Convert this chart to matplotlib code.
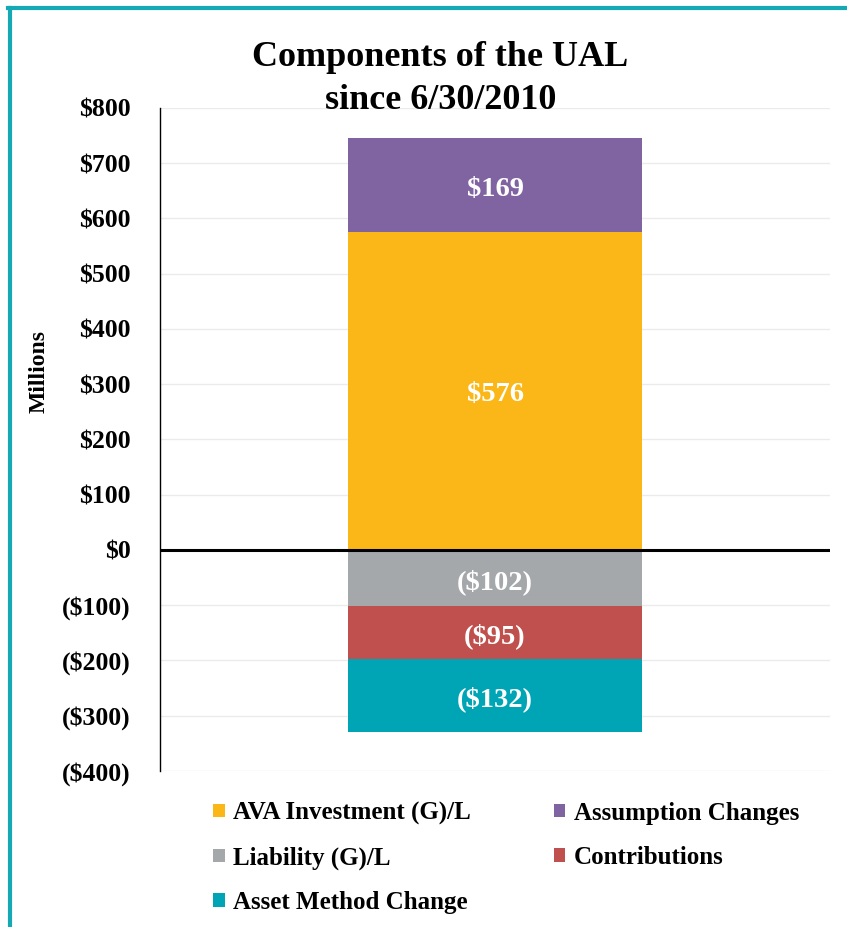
import matplotlib

matplotlib.use("Agg")
import matplotlib.pyplot as plt
from matplotlib.lines import Line2D
from matplotlib.patches import Patch
from matplotlib.ticker import FuncFormatter
from matplotlib.transforms import offset_copy

plt.rcParams["font.family"] = ["Liberation Serif", "DejaVu Serif"]
plt.rcParams["font.weight"] = "bold"

# components (millions), stacked in drawing order
components = ["AVA Investment (G)/L", "Assumption Changes", "Liability (G)/L",
              "Contributions", "Asset Method Change"]
values = [576, 169, -102, -95, -132]
labels = ["$576", "$169", "($102)", "($95)", "($132)"]
colors = ["#FBB717", "#8064A2", "#A5A8AB", "#C0504D", "#00A5B5"]
yticks = list(range(-400, 801, 100))

fig = plt.figure(figsize=(8.47, 9.27), dpi=100)
ax = fig.add_axes([0.1889, 0.1683, 0.7911, 0.7152])
label_tr = offset_copy(ax.transData, fig=fig, y=-4, units="dots")

pos_base, neg_base = 0, 0
handles = {}
for name, v, lab, c in zip(components, values, labels, colors):
    if v >= 0:
        bottom = pos_base
        pos_base += v
    else:
        bottom = neg_base
        neg_base += v
    ax.bar(0, v, bottom=bottom, width=0.44, color=c, zorder=3)
    ax.text(0, bottom + v / 2, lab, ha="center", va="center", color="white",
            fontsize=20.5, fontweight="bold", zorder=4, transform=label_tr)
    handles[name] = Patch(facecolor=c, edgecolor="none")

ax.set_xlim(-0.5, 0.5)
ax.set_ylim(-400, 800)
ax.set_yticks(yticks)
ax.yaxis.set_major_formatter(FuncFormatter(
    lambda v, _: f"${int(v)}" if v >= 0 else f"(${int(-v)})"))
ax.tick_params(axis="y", length=0, labelsize=18.5, pad=21)
ax.set_xticks([])
for t in ax.get_yticklabels():
    t.set_fontweight("bold")
ax.grid(axis="y", color="#EBEBEB", lw=1, zorder=0)
for s in ["top", "right", "bottom"]:
    ax.spines[s].set_visible(False)
ax.spines["left"].set_color("black")
ax.spines["left"].set_linewidth(1)
ax.axhline(0, color="black", lw=2.2, zorder=5)
ax.set_ylabel("Millions", fontsize=17, fontweight="bold")
ax.yaxis.set_label_coords(-0.164, 0.602)

fig.text(0.520, 0.9375, "Components of the UAL", ha="center", va="center",
         fontsize=26, fontweight="bold")
fig.text(0.520, 0.8920, "since 6/30/2010", ha="center", va="center",
         fontsize=26, fontweight="bold")

order = ["AVA Investment (G)/L", "Liability (G)/L", "Asset Method Change",
         "Assumption Changes", "Contributions"]
fig.legend([handles[n] for n in order], order, ncol=2, frameon=False,
           loc="upper left", bbox_to_anchor=(0.240, 0.146), fontsize=18,
           handlelength=0.45, handleheight=0.45, handletextpad=0.35,
           columnspacing=3.3, labelspacing=0.85, borderaxespad=0)

# teal frame (left and top edges)
fig.add_artist(Line2D([0.0118, 0.0118], [0, 0.9914], color="#14A9B5", lw=3,
                      transform=fig.transFigure))
fig.add_artist(Line2D([0.0100, 1.0], [0.9914, 0.9914], color="#14A9B5", lw=3,
                      transform=fig.transFigure))

fig.savefig("out.png", dpi=100, facecolor="white")
